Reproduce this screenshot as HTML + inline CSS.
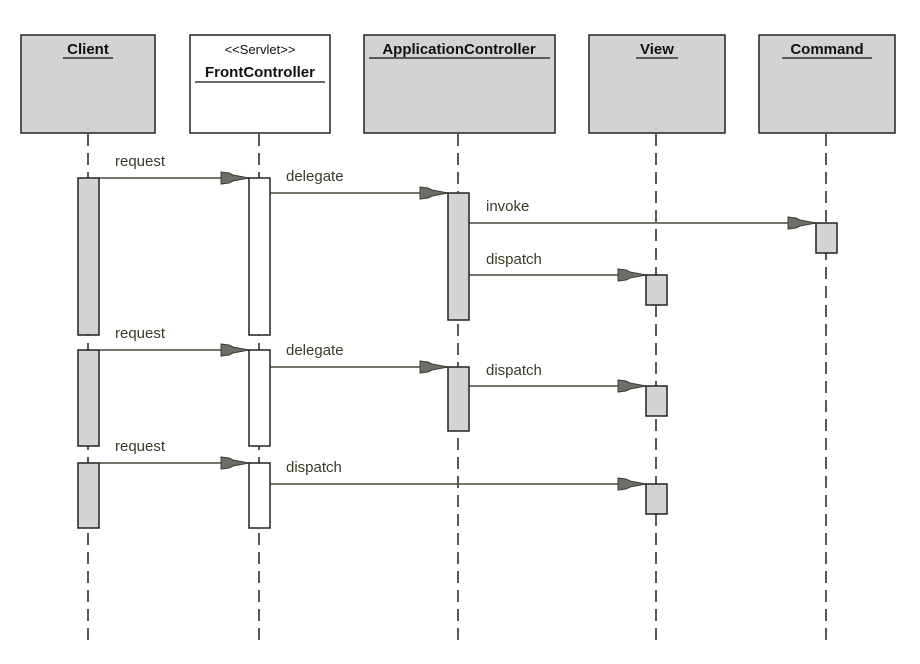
<!DOCTYPE html>
<html><head><style>body{margin:0;background:#fff}</style></head><body>
<svg width="920" height="659" xmlns="http://www.w3.org/2000/svg" font-family="Liberation Sans, sans-serif">
<defs>
<g id="ah"><polygon points="-28,-6 -20,-5 -16,-3 0,0 -16,3 -20,5 -28,6" fill="#6e6e68" stroke="#3d3d30" stroke-width="1"/></g>
</defs>
<g stroke="#222" stroke-width="1.5" stroke-dasharray="12,7" fill="none">
<line x1="88" y1="134" x2="88" y2="643"/>
<line x1="259" y1="134" x2="259" y2="643"/>
<line x1="458" y1="134" x2="458" y2="643"/>
<line x1="656" y1="134" x2="656" y2="643"/>
<line x1="826" y1="134" x2="826" y2="643"/>
</g>
<g stroke="#222" stroke-width="1.5">
<rect x="21" y="35" width="134" height="98" fill="#d3d3d3"/>
<rect x="190" y="35" width="140" height="98" fill="#fff"/>
<rect x="364" y="35" width="191" height="98" fill="#d3d3d3"/>
<rect x="589" y="35" width="136" height="98" fill="#d3d3d3"/>
<rect x="759" y="35" width="136" height="98" fill="#d3d3d3"/>
</g>
<g font-weight="bold" font-size="15" text-anchor="middle" fill="#111">
<text x="88" y="54">Client</text>
<text x="260" y="77">FrontController</text>
<text x="459" y="54">ApplicationController</text>
<text x="657" y="54">View</text>
<text x="827" y="54">Command</text>
</g>
<text x="260" y="54" font-size="13" text-anchor="middle" fill="#111">&lt;&lt;Servlet&gt;&gt;</text>
<g stroke="#111" stroke-width="1.3">
<line x1="63" y1="58" x2="113" y2="58"/>
<line x1="195" y1="82" x2="325" y2="82"/>
<line x1="369" y1="58" x2="550" y2="58"/>
<line x1="636" y1="58" x2="678" y2="58"/>
<line x1="782" y1="58" x2="872" y2="58"/>
</g>
<g stroke="#4a4a3a" stroke-width="1.5">
<line x1="99" y1="178" x2="249" y2="178"/>
<line x1="270" y1="193" x2="448" y2="193"/>
<line x1="469" y1="223" x2="816" y2="223"/>
<line x1="469" y1="275" x2="646" y2="275"/>
<line x1="99" y1="350" x2="249" y2="350"/>
<line x1="270" y1="367" x2="448" y2="367"/>
<line x1="469" y1="386" x2="646" y2="386"/>
<line x1="99" y1="463" x2="249" y2="463"/>
<line x1="270" y1="484" x2="646" y2="484"/>
</g>
<use href="#ah" x="249" y="178"/><use href="#ah" x="448" y="193"/><use href="#ah" x="816" y="223"/><use href="#ah" x="646" y="275"/>
<use href="#ah" x="249" y="350"/><use href="#ah" x="448" y="367"/><use href="#ah" x="646" y="386"/>
<use href="#ah" x="249" y="463"/><use href="#ah" x="646" y="484"/>
<g stroke="#222" stroke-width="1.5">
<rect x="78" y="178" width="21" height="157" fill="#d3d3d3"/>
<rect x="78" y="350" width="21" height="96" fill="#d3d3d3"/>
<rect x="78" y="463" width="21" height="65" fill="#d3d3d3"/>
<rect x="249" y="178" width="21" height="157" fill="#fff"/>
<rect x="249" y="350" width="21" height="96" fill="#fff"/>
<rect x="249" y="463" width="21" height="65" fill="#fff"/>
<rect x="448" y="193" width="21" height="127" fill="#d3d3d3"/>
<rect x="448" y="367" width="21" height="64" fill="#d3d3d3"/>
<rect x="816" y="223" width="21" height="30" fill="#d3d3d3"/>
<rect x="646" y="275" width="21" height="30" fill="#d3d3d3"/>
<rect x="646" y="386" width="21" height="30" fill="#d3d3d3"/>
<rect x="646" y="484" width="21" height="30" fill="#d3d3d3"/>
</g>
<g font-size="15" fill="#3a3a2a">
<text x="115" y="166">request</text>
<text x="286" y="181">delegate</text>
<text x="486" y="211">invoke</text>
<text x="486" y="264">dispatch</text>
<text x="115" y="338">request</text>
<text x="286" y="355">delegate</text>
<text x="486" y="375">dispatch</text>
<text x="115" y="451">request</text>
<text x="286" y="472">dispatch</text>
</g>
</svg>
</body></html>
